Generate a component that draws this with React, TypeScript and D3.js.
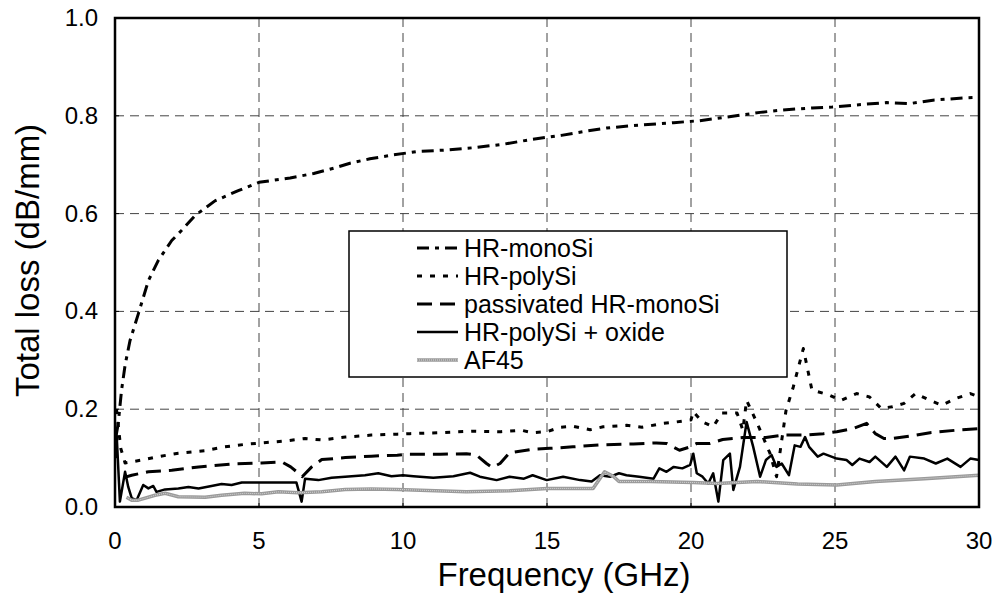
import React from 'react';
import * as d3 from 'd3';

type Pt = [number, number];

// frequency (GHz), total loss (dB/mm)
const hrMonoSi: Pt[] = [
  [0.05, 0.15], [0.11, 0.17], [0.23, 0.24], [0.35, 0.29], [0.52, 0.34], [0.81, 0.395],
  [1.16, 0.463], [1.5, 0.504], [1.97, 0.545], [2.3, 0.565], [2.78, 0.596], [3.47, 0.626],
  [4.28, 0.647], [5.0, 0.664], [6.08, 0.673], [6.9, 0.682], [7.6, 0.693], [8.16, 0.703],
  [8.85, 0.712], [9.65, 0.72], [10.5, 0.727], [11.5, 0.73], [12.5, 0.735], [13.5, 0.742],
  [14.5, 0.752], [15.5, 0.76], [16.3, 0.768], [17.07, 0.775], [18, 0.78], [19.4, 0.786],
  [20.3, 0.79], [21.2, 0.797], [22.4, 0.807], [23.2, 0.812], [24.2, 0.816], [24.9, 0.818],
  [26.1, 0.824], [26.8, 0.827], [27.6, 0.825], [28.4, 0.832], [29.6, 0.837], [30, 0.838],
];

const hrPolySi: Pt[] = [
  [0.05, 0.2], [0.2, 0.12], [0.35, 0.09], [0.93, 0.096], [1.5, 0.103], [2.2, 0.11], [3.13, 0.115],
  [3.8, 0.123], [4.5, 0.128], [5.09, 0.131], [5.9, 0.135], [6.6, 0.14], [7.2, 0.137],
  [8, 0.143], [8.9, 0.147], [9.8, 0.149], [10.24, 0.15], [11.3, 0.152], [12.4, 0.155],
  [13.4, 0.154], [14.1, 0.157], [14.5, 0.152], [15, 0.154], [15.45, 0.163], [15.9, 0.165],
  [16.5, 0.158], [16.95, 0.164], [17.76, 0.167], [18.3, 0.163], [19.03, 0.171], [19.5, 0.174],
  [20, 0.178], [20.08, 0.195], [20.4, 0.174], [20.77, 0.164], [21.07, 0.192], [21.6, 0.192],
  [21.8, 0.157], [21.93, 0.218], [22.3, 0.171], [22.74, 0.11], [22.97, 0.062], [23.3, 0.198],
  [23.55, 0.245], [23.9, 0.324], [24.2, 0.239], [24.8, 0.229], [25.2, 0.218], [25.75, 0.232],
  [26.2, 0.225], [26.6, 0.202], [27, 0.205], [27.4, 0.212], [27.8, 0.232], [28.3, 0.218],
  [28.7, 0.208], [29.2, 0.222], [29.7, 0.232], [30, 0.225],
];

const passivatedMonoSi: Pt[] = [
  [0.3, 0.06], [0.58, 0.065], [1.16, 0.072], [1.97, 0.075], [2.9, 0.082], [4.05, 0.088],
  [5.09, 0.09], [5.8, 0.092], [6.1, 0.082], [6.37, 0.069], [6.5, 0.062], [6.83, 0.082],
  [7.18, 0.097], [8, 0.101], [8.9, 0.104], [9.8, 0.106], [10.24, 0.108], [11.3, 0.108],
  [12.2, 0.109], [12.55, 0.106], [12.9, 0.089], [13.1, 0.081], [13.37, 0.089], [13.7, 0.111],
  [14.5, 0.118], [15.1, 0.12], [15.9, 0.123], [16.8, 0.127], [18, 0.129], [18.8, 0.131],
  [19.15, 0.13], [19.6, 0.116], [19.97, 0.123], [20.2, 0.13], [20.66, 0.13], [21.1, 0.138],
  [21.8, 0.142], [22.6, 0.142], [23.2, 0.147], [23.9, 0.147], [24.6, 0.15], [25.06, 0.154],
  [25.6, 0.16], [26.1, 0.171], [26.4, 0.15], [26.7, 0.14], [27, 0.14], [27.6, 0.145],
  [28.3, 0.152], [29.2, 0.157], [30, 0.16],
];

const polySiOxide: Pt[] = [
  [0.02, 0.1], [0.05, 0.157], [0.17, 0.011], [0.35, 0.072], [0.46, 0.041], [0.58, 0.018],
  [0.75, 0.014], [0.98, 0.045], [1.16, 0.038], [1.33, 0.043], [1.44, 0.031], [1.74, 0.036],
  [2.2, 0.038], [2.55, 0.041], [2.9, 0.038], [3.35, 0.043], [3.7, 0.047], [4.05, 0.045],
  [4.4, 0.05], [4.98, 0.05], [5.67, 0.05], [6.3, 0.05], [6.48, 0.011], [6.6, 0.058],
  [7.06, 0.055], [7.52, 0.06], [7.99, 0.062], [8.68, 0.065], [9.14, 0.069], [9.6, 0.063],
  [10, 0.065], [10.36, 0.063], [11.05, 0.06], [11.75, 0.063], [12.33, 0.07], [12.67, 0.062],
  [13.25, 0.055], [13.7, 0.062], [14.2, 0.058], [14.5, 0.065], [14.99, 0.055], [15.56, 0.062],
  [16.15, 0.055], [16.55, 0.052], [16.84, 0.065], [17.2, 0.062], [17.5, 0.069], [17.76, 0.065],
  [18.2, 0.062], [18.7, 0.058], [18.9, 0.079], [19.15, 0.072], [19.4, 0.082], [19.7, 0.079],
  [19.97, 0.086], [20.08, 0.109], [20.2, 0.069], [20.4, 0.062], [20.6, 0.048], [20.77, 0.069],
  [20.95, 0.011], [21.12, 0.096], [21.35, 0.109], [21.47, 0.035], [21.7, 0.082], [21.93, 0.174],
  [22.16, 0.123], [22.4, 0.062], [22.6, 0.096], [22.8, 0.106], [22.97, 0.082], [23.15, 0.089],
  [23.4, 0.065], [23.6, 0.126], [23.8, 0.123], [23.96, 0.143], [24.1, 0.123], [24.4, 0.103],
  [24.6, 0.109], [25.06, 0.099], [25.4, 0.096], [25.6, 0.086], [25.85, 0.099], [26.2, 0.092],
  [26.4, 0.103], [26.8, 0.082], [27.1, 0.103], [27.4, 0.075], [27.6, 0.103], [28.1, 0.099],
  [28.5, 0.089], [28.9, 0.099], [29.36, 0.082], [29.7, 0.099], [30, 0.096],
];

const af45: Pt[] = [
  [0.4, 0.02], [0.58, 0.014], [0.81, 0.014], [1.39, 0.024], [1.74, 0.028], [2.2, 0.021],
  [3.13, 0.02], [3.7, 0.024], [4.5, 0.028], [5.09, 0.027], [5.67, 0.031], [6.37, 0.029],
  [7.18, 0.031], [7.99, 0.036], [8.9, 0.037], [9.8, 0.036], [12.2, 0.031], [13.7, 0.033],
  [15, 0.038], [16.6, 0.038], [17.0, 0.072], [17.3, 0.063], [17.5, 0.052], [18.6, 0.052],
  [20.08, 0.05], [20.9, 0.048], [22.3, 0.052], [23.7, 0.047], [25.06, 0.045], [26.4, 0.052],
  [28.1, 0.058], [30, 0.065],
];

const xTickValues = [0, 5, 10, 15, 20, 25, 30];
const yTickValues = [0, 0.2, 0.4, 0.6, 0.8, 1.0];

const seriesNames = ['HR-monoSi', 'HR-polySi', 'passivated HR-monoSi', 'HR-polySi + oxide', 'AF45'];
const seriesData = [hrMonoSi, hrPolySi, passivatedMonoSi, polySiOxide, af45];

const styles = [
  { stroke: '#000', width: 3, dash: '12,6,4,6' },
  { stroke: '#000', width: 3, dash: '5,8' },
  { stroke: '#000', width: 3, dash: '15,8' },
  { stroke: '#000', width: 2.5, dash: undefined as string | undefined },
  { stroke: '#9a9a9a', width: 3.5, dash: undefined as string | undefined },
];

const W = 998;
const H = 601;
const margin = { top: 18, right: 19, bottom: 94, left: 115 };

export default function App() {
  const x = d3.scaleLinear().domain([0, 30]).range([margin.left, W - margin.right]);
  const y = d3.scaleLinear().domain([0, 1]).range([H - margin.bottom, margin.top]);
  const line = d3.line<Pt>().x((d) => x(d[0])).y((d) => y(d[1]));

  const font = 'Liberation Sans, Arial, sans-serif';
  const legend = { x: 349, y: 231, w: 438, h: 146, rowY: 248, rowGap: 28 };

  return (
    <div style={{ position: 'absolute', left: 0, top: 0 }}>
      <svg width={W} height={H} style={{ display: 'block', background: '#fff' }} fontFamily={font}>
        <rect x={0} y={0} width={W} height={H} fill="#fff" />

        {/* grid */}
        <g stroke="#444" strokeWidth={1} strokeDasharray="9,6">
          {xTickValues.slice(1, -1).map((t) => (
            <line key={`gx${t}`} x1={x(t)} x2={x(t)} y1={y(1)} y2={y(0)} />
          ))}
          {yTickValues.slice(1, -1).map((t) => (
            <line key={`gy${t}`} x1={x(0)} x2={x(30)} y1={y(t)} y2={y(t)} />
          ))}
        </g>

        {/* series */}
        <g fill="none" strokeLinejoin="round">
          {seriesData.map((d, i) => (
            <path
              key={seriesNames[i]}
              d={line(d) || ''}
              stroke={styles[i].stroke}
              strokeWidth={styles[i].width}
              strokeDasharray={styles[i].dash}
            />
          ))}
          <path d={line(af45) || ''} stroke="#d8d8d8" strokeWidth={1} strokeDasharray="1,1" />
        </g>

        {/* frame */}
        <rect
          x={x(0)}
          y={y(1)}
          width={x(30) - x(0)}
          height={y(0) - y(1)}
          fill="none"
          stroke="#000"
          strokeWidth={2.5}
        />

        {/* ticks */}
        <g stroke="#000" strokeWidth={1}>
          {yTickValues.map((t) => (
            <line key={`ty${t}`} x1={x(0)} x2={x(0) + 4} y1={y(t)} y2={y(t)} />
          ))}
          {xTickValues.map((t) => (
            <line key={`tx${t}`} x1={x(t)} x2={x(t)} y1={y(0)} y2={y(0) - 4} />
          ))}
        </g>

        {/* tick labels */}
        <g fontSize={24} fill="#000">
          {yTickValues.map((t) => (
            <text key={`ly${t}`} x={x(0) - 17} y={y(t) + 8} textAnchor="end">
              {t.toFixed(1)}
            </text>
          ))}
          {xTickValues.map((t) => (
            <text key={`lx${t}`} x={x(t)} y={y(0) + 42} textAnchor="middle">
              {t}
            </text>
          ))}
        </g>

        {/* axis titles */}
        <text x={564} y={586} fontSize={33} textAnchor="middle">
          Frequency (GHz)
        </text>
        <text
          transform={`translate(39, ${(y(0) + y(1)) / 2 - 2}) rotate(-90)`}
          fontSize={33}
          textAnchor="middle"
        >
          Total loss (dB/mm)
        </text>

        {/* legend */}
        <g>
          <rect x={legend.x} y={legend.y} width={legend.w} height={legend.h} fill="#fff" stroke="#000" strokeWidth={1.5} />
          {seriesNames.map((name, i) => {
            const cy = legend.rowY + i * legend.rowGap;
            return (
              <g key={`lg${name}`}>
                <line
                  x1={417}
                  x2={458}
                  y1={cy}
                  y2={cy}
                  stroke={styles[i].stroke}
                  strokeWidth={styles[i].width}
                  strokeDasharray={styles[i].dash}
                />
                {i === 4 && (
                  <line x1={417} x2={458} y1={cy} y2={cy} stroke="#d8d8d8" strokeWidth={1} strokeDasharray="1,1" />
                )}
                <text x={464} y={cy + 9} fontSize={25}>
                  {name}
                </text>
              </g>
            );
          })}
        </g>
      </svg>
    </div>
  );
}
